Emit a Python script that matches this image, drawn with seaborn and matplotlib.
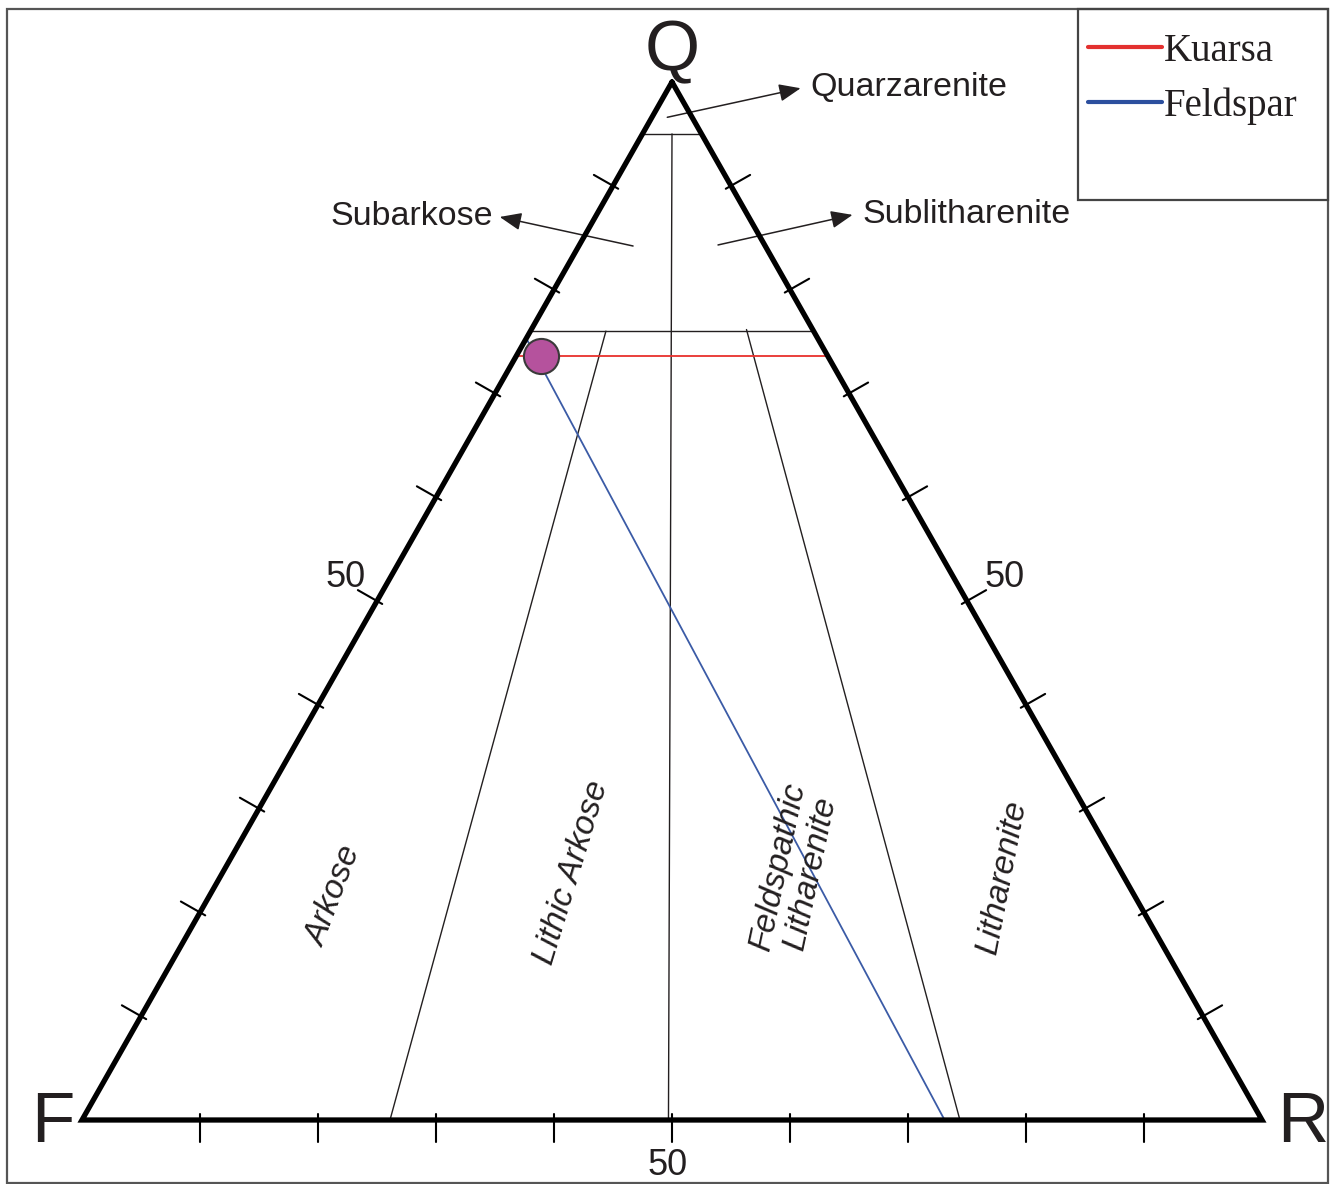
import matplotlib.pyplot as plt
import numpy as np
import pandas as pd
import seaborn as sns
from matplotlib.lines import Line2D
from matplotlib.patches import Rectangle

# sample composition (%)
sample_q = [73.6]
sample_f = [24.3]
sample_r = [2.1]

# reading lines through the sample, end points as (Q, F, R)
kuarsa_q = [73.6, 73.6]
kuarsa_f = [26.4, 0.0]
kuarsa_r = [0.0, 26.4]
feldspar_q = [75.3, 0.0]
feldspar_f = [24.7, 26.9]
feldspar_r = [0.0, 73.1]

# Folk field boundaries, two end points each
bound_q = [[95, 95], [76, 76], [95, 0], [76, 0], [76, 0]]
bound_f = [[5, 0], [24, 0], [2.5, 50.3], [17.6, 73.9], [5.6, 25.6]]
bound_r = [[0, 5], [0, 24], [2.5, 49.7], [6.4, 26.1], [18.2, 74.4]]

tick_values = [10, 20, 30, 40, 50, 60, 70, 80, 90]
labelled_tick = 50
vertex_names = ["Q", "F", "R"]
field_names = ["Arkose", "Lithic Arkose", "Feldspathic\nLitharenite", "Litharenite"]
arrow_fields = ["Quarzarenite", "Subarkose", "Sublitharenite"]
legend_labels = ["Kuarsa", "Feldspar"]
legend_colors = ["#e3302f", "#2c4f9e"]

INK = "#231f20"
W, H = 1335, 1184
PX_X, PX_Y = 11.8, 10.38  # pixels per data unit


def tern(q, f, r):
    q, f, r = np.asarray(q, float), np.asarray(f, float), np.asarray(r, float)
    tot = q + f + r
    return (r + q / 2) / tot * 100, q / tot * 100


sns.set_theme(style="white")
plt.rcParams["font.family"] = ["Liberation Sans", "DejaVu Sans"]

fig = plt.figure(figsize=(W / 100, H / 100), dpi=100)
ax = fig.add_axes([0, 0, 1, 1])
ax.set_xlim(-82 / PX_X, (W - 82) / PX_X)
ax.set_ylim((1120 - H) / PX_Y, 1120 / PX_Y)
ax.axis("off")

# field boundaries
rows = []
for i, (qq, ff, rr) in enumerate(zip(bound_q, bound_f, bound_r)):
    x, y = tern(qq, ff, rr)
    for xi, yi in zip(x, y):
        rows.append({"line": i, "x": xi, "y": yi})
bdf = pd.DataFrame(rows)
sns.lineplot(data=bdf, x="x", y="y", units="line", estimator=None, sort=False,
             color=INK, lw=1.0, ax=ax, legend=False, zorder=2)

# triangle outline
tx, ty = tern([100, 0, 0, 100], [0, 100, 0, 0], [0, 0, 100, 0])
ax.plot(tx, ty, color="black", lw=3.8, solid_joinstyle="miter", zorder=4)

# ticks, outward normals in pixel space (x right, y down)
edges = [
    (lambda v: (v, 100 - v, 0), (-0.869, -0.495)),  # F-Q edge
    (lambda v: (v, 0, 100 - v), (0.869, -0.494)),  # R-Q edge
    (lambda v: (0, 100 - v, v), (0.0, 1.0)),  # F-R edge
]
for comp, (nx, ny) in edges:
    for v in tick_values:
        x, y = tern(*comp(v))
        ax.plot([x - nx * 6 / PX_X, x + nx * 22 / PX_X],
                [y + ny * 6 / PX_Y, y - ny * 22 / PX_Y],
                color="black", lw=1.5, zorder=4)

lab_off = [(-22.7, 16.8), (27.4, 16.8), (-2.9, -32.5)]
for (comp, _), off in zip(edges, lab_off):
    x, y = tern(*comp(labelled_tick))
    ax.annotate(str(labelled_tick), (x, y), xytext=off, textcoords="offset points",
                ha="center", va="center", fontsize=26, color=INK)

# vertex letters
vx, vy = tern([100, 0, 0], [0, 100, 0], [0, 0, 100])
for name, x, y, off in zip(vertex_names, vx, vy, [(0, 8.6), (-20.9, -15.8), (29.5, -15.8)]):
    ax.annotate(name, (x, y), xytext=off, textcoords="offset points",
                ha="center", va="baseline", fontsize=51, color=INK)

# reading lines and the sample point
kx, ky = tern(kuarsa_q, kuarsa_f, kuarsa_r)
sns.lineplot(x=kx, y=ky, color="#e8302c", lw=1.3, ax=ax, zorder=3, sort=False)
fx, fy = tern(feldspar_q, feldspar_f, feldspar_r)
sns.lineplot(x=fx, y=fy, color="#3b5ba6", lw=1.3, ax=ax, zorder=3, sort=False)
sx, sy = tern(sample_q, sample_f, sample_r)
sns.scatterplot(x=sx, y=sy, s=640, color="#b5529d", edgecolor="#3a3a3a",
                linewidth=1.5, ax=ax, zorder=5)

# small fields with arrows
arrow_tail = [(49.6, 96.6), (46.7, 84.2), (53.9, 84.3)]
arrow_head = [(60.9, 99.4), (35.4, 87.0), (65.3, 87.2)]
for name, tail, head, side in zip(arrow_fields, arrow_tail, arrow_head, ["left", "right", "left"]):
    ax.annotate("", xy=head, xytext=tail,
                arrowprops=dict(arrowstyle="-|>,head_length=1.1,head_width=0.45",
                                color=INK, lw=1.1, shrinkA=0, shrinkB=0))
    dx = 0.8 if side == "left" else -0.6
    ax.text(head[0] + dx, head[1] + 0.05, name, ha=side, va="center",
            fontsize=24.5, color=INK)

# big fields
field_pos = [(21.4, 21.5), (41.5, 23.8), (60.4, 24.1), (78.0, 23.4)]
field_rot = [69, 73, 78, 79]
for name, (x, y), rot in zip(field_names, field_pos, field_rot):
    ax.text(x, y, name, rotation=rot, rotation_mode="anchor", ha="center", va="center",
            ma="center", fontsize=24, style="italic", color=INK, linespacing=1.1)

# frame and legend box
fig.patches.append(Rectangle((7 / W, 1 - 1183 / H), 1321 / W, 1174 / H, transform=fig.transFigure,
                             fill=False, edgecolor="#555555", lw=1.6))
fig.patches.append(Rectangle((1078 / W, 1 - 200 / H), 250 / W, 191 / H, transform=fig.transFigure,
                             fill=False, edgecolor="#444444", lw=1.6))
handles = [Line2D([], [], color=c, lw=3.0) for c in legend_colors]
fig.legend(handles, legend_labels, loc="upper left", bbox_to_anchor=(1088 / W, 1 - 33 / H),
           frameon=False, borderpad=0, borderaxespad=0, handlelength=1.9, handletextpad=0.05,
           labelspacing=0.45, prop={"family": "Liberation Serif", "size": 28}, labelcolor=INK)

fig.savefig("out.png", dpi=100, facecolor="white")
